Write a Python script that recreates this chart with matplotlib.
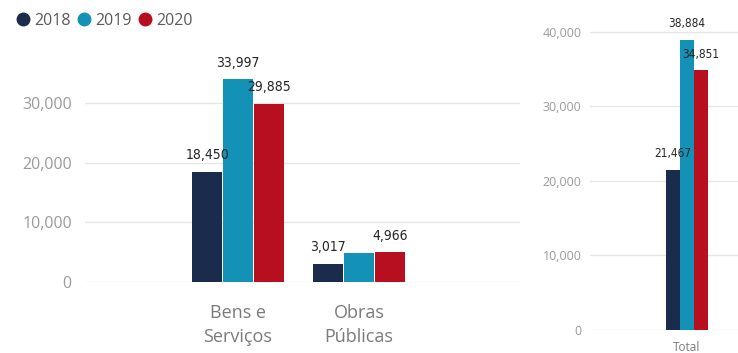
import numpy as np
import matplotlib.pyplot as plt
from matplotlib.lines import Line2D

# Contract values by year (left: by type, right: total)
years = ['2018', '2019', '2020']
colors = ['#1B2B4B', '#1391B6', '#B70F20']
categories = ['Bens e\nServiços', 'Obras\nPúblicas']
values = {
    '2018': [18450, 3017],
    '2019': [33997, 4887],
    '2020': [29885, 4966],
}
totals = [21467, 38884, 34851]
# Obras 2019 label is hidden in the chart (overlaps its neighbours)
show_label = {'2018': [True, True], '2019': [True, False], '2020': [True, True]}

W, H = 738, 353
fig = plt.figure(figsize=(W / 100, H / 100), dpi=100)
plt.rcParams['font.family'] = ['Open Sans', 'DejaVu Sans']

grid_c = '#E6E6E6'
tick_c = '#9A9A9A'
val_font = dict(family='DejaVu Sans', fontstretch='condensed', color='#252525')


def style(ax, size, pad):
    for s in ax.spines.values():
        s.set_visible(False)
    ax.grid(axis='y', color=grid_c, linewidth=1)
    ax.set_axisbelow(True)
    ax.tick_params(axis='y', length=0, labelsize=size, labelcolor=tick_c, pad=pad)
    ax.yaxis.set_major_formatter(plt.FuncFormatter(lambda v, p: f'{v:,.0f}'))


# left panel: by category
axL = fig.add_axes([85 / W, (H - 282) / H, 435 / W, 214.6 / H])
x = np.arange(len(categories))
step, width = 0.255, 0.245
for i, y in enumerate(years):
    bars = axL.bar(x + (i - 1) * step, values[y], width, color=colors[i], zorder=2)
    for b, v, show in zip(bars, values[y], show_label[y]):
        if show:
            axL.annotate(f'{v:,}', (b.get_x() + b.get_width() / 2, v),
                         xytext=(0, 7), textcoords='offset points',
                         ha='center', va='bottom', fontsize=10, **val_font)
axL.set_xlim(-1.264, 2.33)
axL.set_ylim(0, 36000)
axL.set_yticks([0, 10000, 20000, 30000])
axL.set_xticks(x)
axL.set_xticklabels(categories, fontsize=13, color='#7A7A7A', linespacing=1.4)
axL.tick_params(axis='x', length=0, pad=16)
style(axL, 11.5, 9.5)

# right panel: total
axR = fig.add_axes([590 / W, (H - 330) / H, 148 / W, 313 / H])
stepR, widthR = 0.142, 0.135
for i, y in enumerate(years):
    b = axR.bar((i - 1) * stepR, totals[i], widthR, color=colors[i], zorder=2)[0]
    axR.annotate(f'{totals[i]:,}', (b.get_x() + b.get_width() / 2, totals[i]),
                 xytext=(0, 7), textcoords='offset points',
                 ha='center', va='bottom', fontsize=8.5, **val_font)
axR.set_xlim(-0.97, 0.51)
axR.set_ylim(0, 42000)
axR.set_yticks([0, 10000, 20000, 30000, 40000])
axR.set_xticks([0])
axR.set_xticklabels(['Total'], fontsize=8.5, color='#7A7A7A')
axR.tick_params(axis='x', length=0, pad=8)
style(axR, 9, 6)

# legend
handles = [Line2D([], [], marker='o', linestyle='', markersize=9, color=c) for c in colors]
fig.legend(handles, years, loc='center left', bbox_to_anchor=(13 / W, 1 - 21 / H),
           frameon=False, ncol=3, handletextpad=0.1, columnspacing=0.25,
           handlelength=1.2, fontsize=11.5, labelcolor='#5A5A5A',
           borderpad=0, borderaxespad=0)

fig.savefig('out.png', dpi=100)
